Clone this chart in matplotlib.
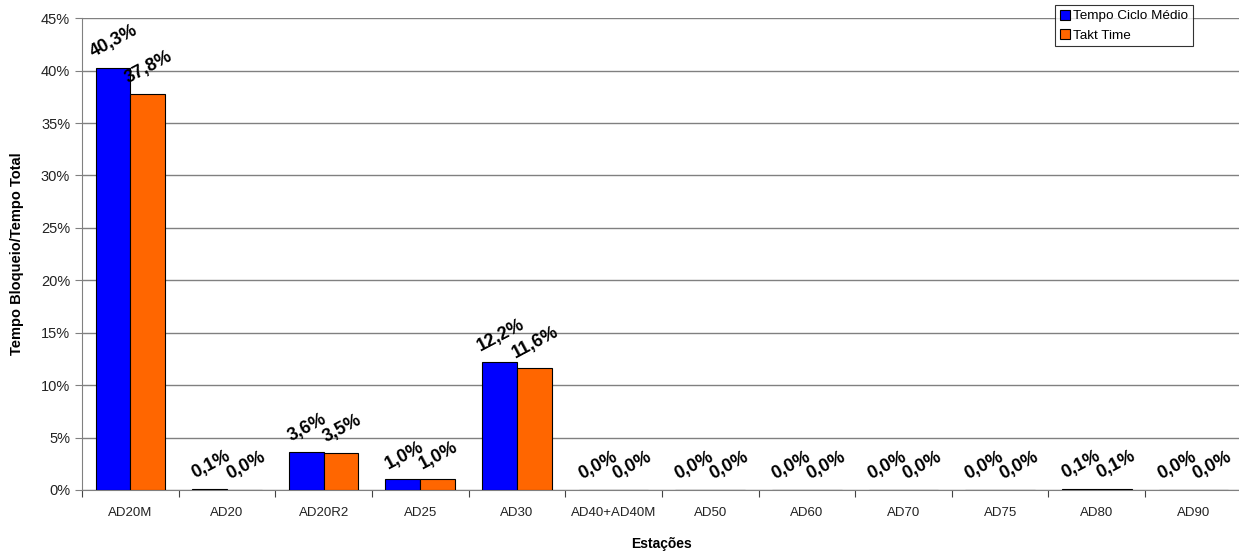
import numpy as np
import matplotlib.pyplot as plt
from matplotlib.ticker import FuncFormatter

plt.rcParams['font.family'] = ['Liberation Sans', 'DejaVu Sans']

estacoes = ['AD20M', 'AD20', 'AD20R2', 'AD25', 'AD30', 'AD40+AD40M',
            'AD50', 'AD60', 'AD70', 'AD75', 'AD80', 'AD90']
ciclo_medio = [40.3, 0.1, 3.6, 1.0, 12.2, 0.0, 0.0, 0.0, 0.0, 0.0, 0.1, 0.0]
takt_time = [37.8, 0.0, 3.5, 1.0, 11.6, 0.0, 0.0, 0.0, 0.0, 0.0, 0.1, 0.0]

fig = plt.figure(figsize=(12.39, 5.53), dpi=100)
ax = fig.add_axes([0.0662, 0.114, 0.936, 0.853])

x = np.arange(len(estacoes))
w = 0.36
b1 = ax.bar(x - w / 2, ciclo_medio, w, color='#0000ff', edgecolor='black',
            linewidth=0.8, label='Tempo Ciclo Médio', zorder=3)
b2 = ax.bar(x + w / 2, takt_time, w, color='#ff6600', edgecolor='black',
            linewidth=0.8, label='Takt Time', zorder=3)

# rotated value labels above each bar
for bars, vals in ((b1, ciclo_medio), (b2, takt_time)):
    for rect, v in zip(bars, vals):
        ax.annotate(f'{v:.1f}%'.replace('.', ','),
                    (rect.get_x() + rect.get_width() / 2, v),
                    xytext=(1, 5), textcoords='offset points', rotation=28,
                    ha='center', va='bottom', fontsize=13, fontweight='bold',
                    color='black', zorder=4)

ax.set_ylim(0, 45)
ax.set_xlim(-0.5, len(estacoes) - 0.5)
ax.set_yticks(np.arange(0, 46, 5))
ax.yaxis.set_major_formatter(FuncFormatter(lambda v, _: f'{v:.0f}%'))
ax.yaxis.grid(True, color='#808080', linewidth=1.0, zorder=0)

ax.set_xticks(np.arange(-0.5, len(estacoes), 1.0))
ax.set_xticklabels([])
ax.set_xticks(x, minor=True)
ax.set_xticklabels(estacoes, minor=True)
ax.tick_params(axis='x', which='minor', length=0, pad=12, labelsize=9.5,
               labelcolor='#222222')
ax.tick_params(axis='x', which='major', length=5, color='#444444')
ax.tick_params(axis='y', length=5, color='#808080', labelsize=10.5,
               labelcolor='#222222')

for s in ('top', 'right'):
    ax.spines[s].set_visible(False)
ax.spines['left'].set_color('#808080')
ax.spines['bottom'].set_color('#808080')

ax.set_xlabel('Estações', fontsize=10, fontweight='bold', labelpad=13)
ax.set_ylabel('Tempo Bloqueio/Tempo Total', fontsize=10.5, fontweight='bold',
              labelpad=12)

leg = fig.legend(handles=[b1, b2], loc='upper right',
                 bbox_to_anchor=(0.963, 0.991), fontsize=9.7, frameon=True,
                 fancybox=False, edgecolor='black', handlelength=0.75,
                 handleheight=0.75, handletextpad=0.25, borderpad=0.35,
                 labelspacing=0.5, borderaxespad=0)
leg.get_frame().set_linewidth(0.8)

fig.savefig('out.png', dpi=100)
